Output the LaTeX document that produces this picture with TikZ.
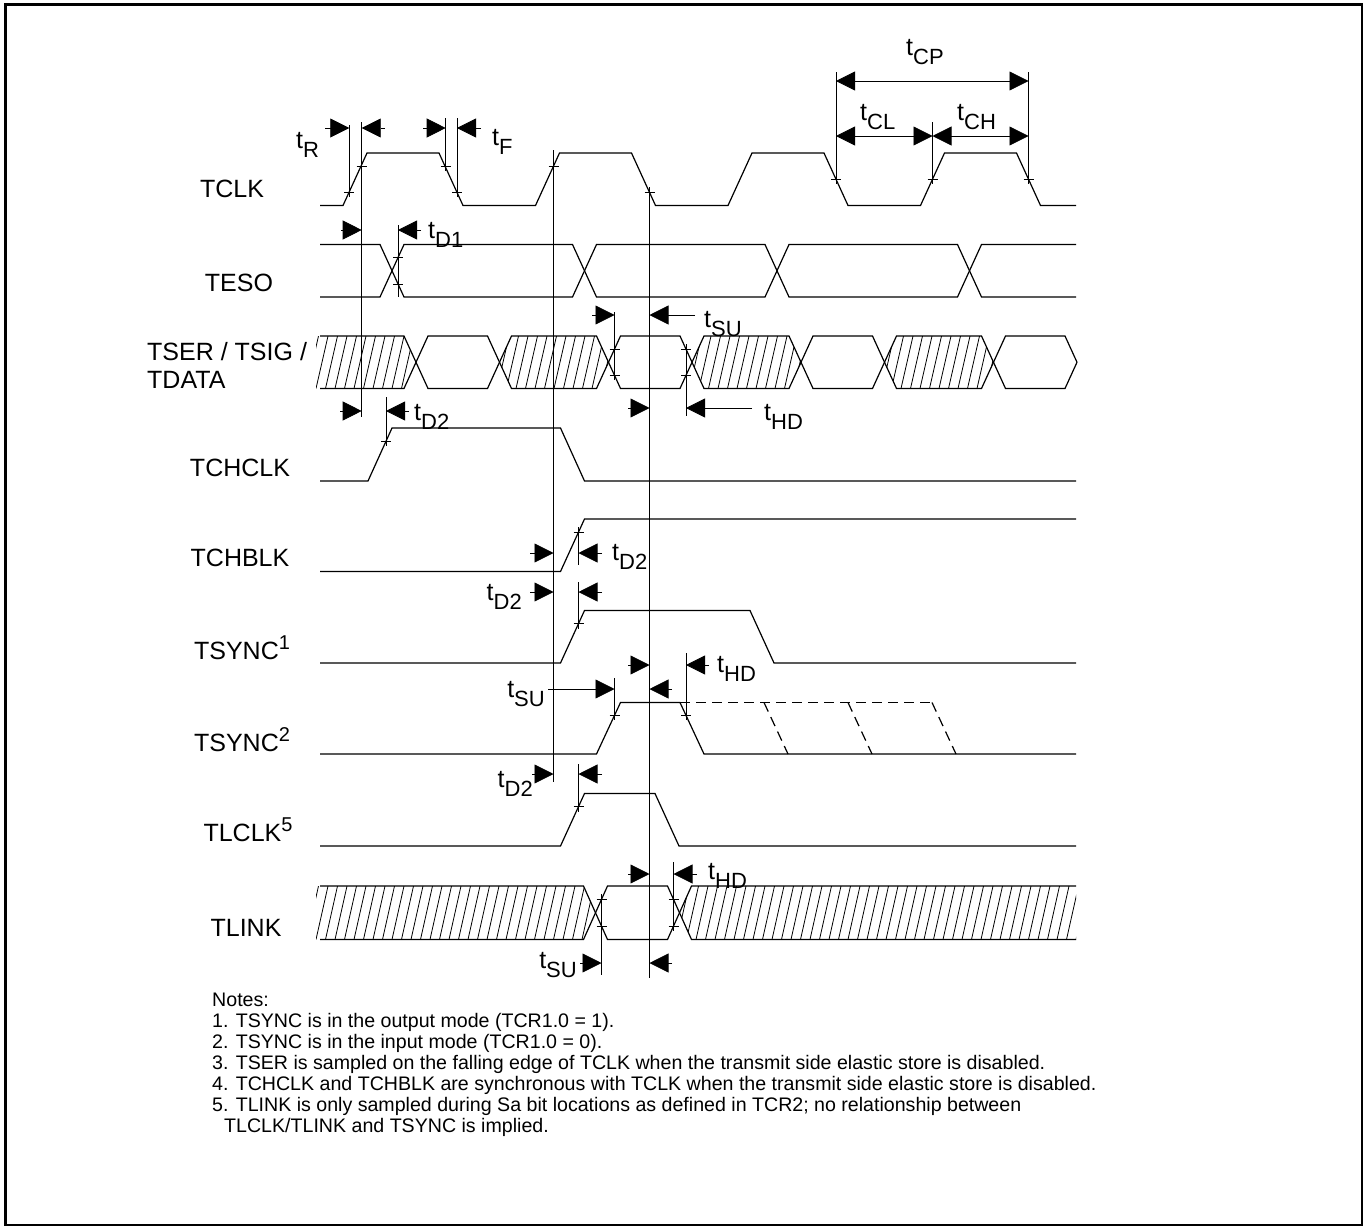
\documentclass[tikz,border=0pt]{standalone}
\usepackage{fontspec}
\setmainfont{Liberation Sans}
\usetikzlibrary{arrows.meta}

% t with a lowered index, as in t_SU
\newcommand{\tl}[1]{t\raisebox{-9pt}{\fontsize{22pt}{22pt}\selectfont #1}}
% signal name with a raised note number
\newcommand{\supsig}[2]{#1\raisebox{10pt}{\fontsize{20pt}{20pt}\selectfont #2}}
% small cross on an edge
\newcommand{\tick}[2]{\draw[guide] ({#1-5},#2) -- ({#1+5},#2) ({#1},{#2-5}) -- ({#1},{#2+5});}
% hatched bus segment between the crossings #1 and #2, rails #3 (top) and #4 (bottom)
\newcommand{\hatchseg}[4]{%
  \begin{scope}
    \clip (#1,{(#3+#4)/2}) -- ({#1+12},#3) -- ({#2-12},#3) -- (#2,{(#3+#4)/2})
      -- ({#2-12},#4) -- ({#1+12},#4) -- cycle;
    \pgfmathtruncatemacro{\nh}{(#2-#1)/9.5+3}
    \foreach \k in {0,...,\nh}
      \draw[hatchline] ({#1-12+9.5*\k},#4) -- ++(12,{#3-#4});
  \end{scope}}

\begin{document}
\begin{tikzpicture}[x=1pt, y=-1pt, >={Triangle[length=19pt,width=19pt]},
  sig/.style={line width=1.2pt},
  guide/.style={line width=0.8pt},
  hatchline/.style={line width=0.8pt},
  dim/.style={line width=0.8pt},
  lab/.style={font=\fontsize{25pt}{28pt}\selectfont, inner sep=0pt},
  tlab/.style={font=\fontsize{25pt}{28pt}\selectfont, inner sep=0pt}]
\useasboundingbox (0,0) rectangle (1363,1226);
%frame
\draw[line width=2.5pt] (5.3,4.5) rectangle (1362,1225);

%%signal names
\node[lab] (tclk) at (232,189) {TCLK};
\node[lab] (teso) at (239,283) {TESO};
\node[lab, anchor=west, align=left] (tser) at (147,365) {TSER / TSIG /\\TDATA};
\node[lab] (tchclk) at (240,468) {TCHCLK};
\node[lab] (tchblk) at (240,558) {TCHBLK};
\node[lab] (tsynca) at (242,648) {\supsig{TSYNC}{1}};
\node[lab] (tsyncb) at (242,740) {\supsig{TSYNC}{2}};
\node[lab] (tlclk) at (248,830) {\supsig{TLCLK}{5}};
\node[lab] (tlink) at (246,928) {TLINK};

%%waveforms
%tclk
\draw[sig] (320,205.5) -- (343,205.5) -- (367,153) -- (439,153) -- (463,205.5)
  -- (535.5,205.5) -- (559.5,153) -- (631.5,153) -- (655.5,205.5)
  -- (728,205.5) -- (752,153) -- (824,153) -- (848,205.5)
  -- (920.5,205.5) -- (944.5,153) -- (1016.5,153) -- (1040.5,205.5) -- (1076,205.5);
%teso
\draw[sig] (320,244.5) -- (380,244.5) -- (404,297) -- (572.5,297) -- (596.5,244.5)
  -- (765,244.5) -- (789,297) -- (957.5,297) -- (981.5,244.5) -- (1076,244.5);
\draw[sig] (320,297) -- (380,297) -- (404,244.5) -- (572.5,244.5) -- (596.5,297)
  -- (765,297) -- (789,244.5) -- (957.5,244.5) -- (981.5,297) -- (1076,297);
%tser
\draw[sig] (320,336) -- (404,336) -- (428,388.5) -- (487.5,388.5) -- (511.5,336)
  -- (596.5,336) -- (620.5,388.5) -- (680,388.5) -- (704,336) -- (789,336)
  -- (813,388.5) -- (872.5,388.5) -- (896.5,336) -- (981.5,336) -- (1005.5,388.5)
  -- (1065,388.5) -- (1077,362.25);
\draw[sig] (320,388.5) -- (404,388.5) -- (428,336) -- (487.5,336) -- (511.5,388.5)
  -- (596.5,388.5) -- (620.5,336) -- (680,336) -- (704,388.5) -- (789,388.5)
  -- (813,336) -- (872.5,336) -- (896.5,388.5) -- (981.5,388.5) -- (1005.5,336)
  -- (1065,336) -- (1077,362.25);
%tchclk
\draw[sig] (320,481) -- (368,481) -- (392,428) -- (560.5,428) -- (584.5,481) -- (1076,481);
%tchblk
\draw[sig] (320,571.5) -- (560.5,571.5) -- (584.5,519) -- (1076,519);
%tsync (output)
\draw[sig] (320,663) -- (560.5,663) -- (584.5,610.5) -- (750,610.5) -- (774,663) -- (1076,663);
%tsync (input)
\draw[sig] (320,754) -- (596.5,754) -- (620.5,702.5) -- (680,702.5) -- (704,754) -- (1076,754);
\draw[sig, dashed, dash pattern=on 10pt off 6pt] (680,702.5) -- (932,702.5);
\draw[sig, dashed, dash pattern=on 10pt off 6pt] (764,702.5) -- (788,754);
\draw[sig, dashed, dash pattern=on 10pt off 6pt] (848,702.5) -- (872,754);
\draw[sig, dashed, dash pattern=on 10pt off 6pt] (932,702.5) -- (956,754);
%tlclk
\draw[sig] (320,846) -- (560.5,846) -- (584.5,793.5) -- (655,793.5) -- (679,846) -- (1076,846);
%tlink
\draw[sig] (320,886) -- (583.5,886) -- (607.5,939.5) -- (667.5,939.5) -- (691.5,886) -- (1076,886);
\draw[sig] (320,939.5) -- (583.5,939.5) -- (607.5,886) -- (667.5,886) -- (691.5,939.5) -- (1076,939.5);
%hatching
\begin{scope}
\clip (316,0) rectangle (1076,1226);
\hatchseg{290}{416}{336}{388.5}
\hatchseg{499.5}{608.5}{336}{388.5}
\hatchseg{692}{801}{336}{388.5}
\hatchseg{884.5}{993.5}{336}{388.5}
\hatchseg{290}{595.5}{886}{939.5}
\hatchseg{679.5}{1110}{886}{939.5}
\end{scope}

%%reference lines
\draw[guide] (349.3,125) -- (349.3,192);
\draw[guide] (361.7,122) -- (361.7,417);
\draw[guide] (445.7,118) -- (445.7,166);
\draw[guide] (457,118) -- (457,192);
\draw[guide] (553.5,150) -- (553.5,782);
\draw[guide] (649.5,188) -- (649.5,978);
\draw[guide] (836,72) -- (836,179);
\draw[guide] (932.5,122) -- (932.5,179);
\draw[guide] (1028.5,72) -- (1028.5,179);
\draw[guide] (398,225) -- (398,297);
\draw[guide] (614.5,312) -- (614.5,376);
\draw[guide] (686,348) -- (686,416);
\draw[guide] (386,397) -- (386,441);
\draw[guide] (578.5,532) -- (578.5,565);
\draw[guide] (578.5,582) -- (578.5,624);
\draw[guide] (614.5,678) -- (614.5,716);
\draw[guide] (686,653) -- (686,716);
\draw[guide] (578.5,764) -- (578.5,807);
\draw[guide] (673.5,862) -- (673.5,926);
\draw[guide] (601.5,899) -- (601.5,975);
%ticks
\tick{349.3}{192} \tick{361.7}{166} \tick{445.7}{166} \tick{457}{192}
\tick{553.5}{166} \tick{649.5}{192}
\tick{836}{179} \tick{932.5}{179} \tick{1028.5}{179}
\tick{398}{257.6} \tick{398}{283.9}
\tick{614.5}{349.1} \tick{614.5}{375.4} \tick{686}{349.1} \tick{686}{375.4}
\tick{386}{441.2} \tick{578.5}{532.1} \tick{578.5}{623.6}
\tick{614.5}{715.4} \tick{686}{715.4} \tick{578.5}{806.6}
\tick{601.5}{899.4} \tick{601.5}{926.1} \tick{673.5}{899.4} \tick{673.5}{926.1}

%%timing arrows
%clock
\draw[dim,->] (325,128) -- (349.3,128);
\draw[dim,->] (385,128) -- (361.7,128);
\draw[dim,->] (423,128) -- (445.7,128);
\draw[dim,->] (481,128) -- (457,128);
\draw[dim,<->] (836,81) -- (1028.5,81);
\draw[dim,<->] (836,136) -- (932.5,136);
\draw[dim,<->] (932.5,136) -- (1028.5,136);
%teso, tser, tchclk
\draw[dim,->] (341,230) -- (361.7,230);
\draw[dim,->] (421,230) -- (398,230);
\draw[dim,->] (592,315) -- (614.5,315);
\draw[dim,->] (695,315) -- (649.5,315);
\draw[dim,->] (340,411) -- (361.7,411);
\draw[dim,->] (409,411) -- (386,411);
\draw[dim,->] (628,408) -- (649.5,408);
\draw[dim,->] (752,408) -- (686,408);
%tchblk, tsync
\draw[dim,->] (530,553) -- (553.5,553);
\draw[dim,->] (602,553) -- (578.5,553);
\draw[dim,->] (530,592) -- (553.5,592);
\draw[dim,->] (602,592) -- (578.5,592);
\draw[dim,->] (628,665) -- (649.5,665);
\draw[dim,->] (709,665) -- (686,665);
\draw[dim,->] (548,689) -- (614.5,689);
\draw[dim,->] (672,689) -- (649.5,689);
%tlclk, tlink
\draw[dim,->] (532,774) -- (553.5,774);
\draw[dim,->] (602,774) -- (578.5,774);
\draw[dim,->] (628,874) -- (649.5,874);
\draw[dim,->] (697,874) -- (673.5,874);
\draw[dim,->] (580,963) -- (601.5,963);
\draw[dim,->] (672,963) -- (649.5,963);

%%timing labels
\node[tlab, anchor=base west] (tr) at (296,148) {\tl{R}};
\node[tlab, anchor=base west] (tf) at (492,145) {\tl{F}};
\node[tlab, anchor=base west] (tcp) at (906,55) {\tl{CP}};
\node[tlab, anchor=base west] (tcl) at (860,120) {\tl{CL}};
\node[tlab, anchor=base west] (tch) at (957,120) {\tl{CH}};
\node[tlab, anchor=base west] (tdone) at (428,238) {\tl{D1}};
\node[tlab, anchor=base west] (tsuser) at (704,327) {\tl{SU}};
\node[tlab, anchor=base west] (tdtwoch) at (414,420) {\tl{D2}};
\node[tlab, anchor=base west] (thdser) at (764,420) {\tl{HD}};
\node[tlab, anchor=base west] (tdtwobl) at (612,560) {\tl{D2}};
\node[tlab, anchor=base east] (tdtwosy) at (522,600) {\tl{D2}};
\node[tlab, anchor=base west] (thdsy) at (717,672) {\tl{HD}};
\node[tlab, anchor=base east] (tsusy) at (545,697) {\tl{SU}};
\node[tlab, anchor=base east] (tdtwolc) at (533,787) {\tl{D2}};
\node[tlab, anchor=base west] (thdln) at (708,879) {\tl{HD}};
\node[tlab, anchor=base east] (tsuln) at (577,968) {\tl{SU}};

%%notes
\node[anchor=north west, align=left, inner sep=0pt,
  font=\fontsize{19.6pt}{21pt}\selectfont] (notes) at (212,993) {%
Notes:\\
1. TSYNC is in the output mode (TCR1.0 = 1).\\
2. TSYNC is in the input mode (TCR1.0 = 0).\\
3. TSER is sampled on the falling edge of TCLK when the transmit side elastic store is disabled.\\
4. TCHCLK and TCHBLK are synchronous with TCLK when the transmit side elastic store is disabled.\\
5. TLINK is only sampled during Sa bit locations as defined in TCR2; no relationship between\\
\hspace*{12pt}TLCLK/TLINK and TSYNC is implied.};
\end{tikzpicture}
\end{document}
